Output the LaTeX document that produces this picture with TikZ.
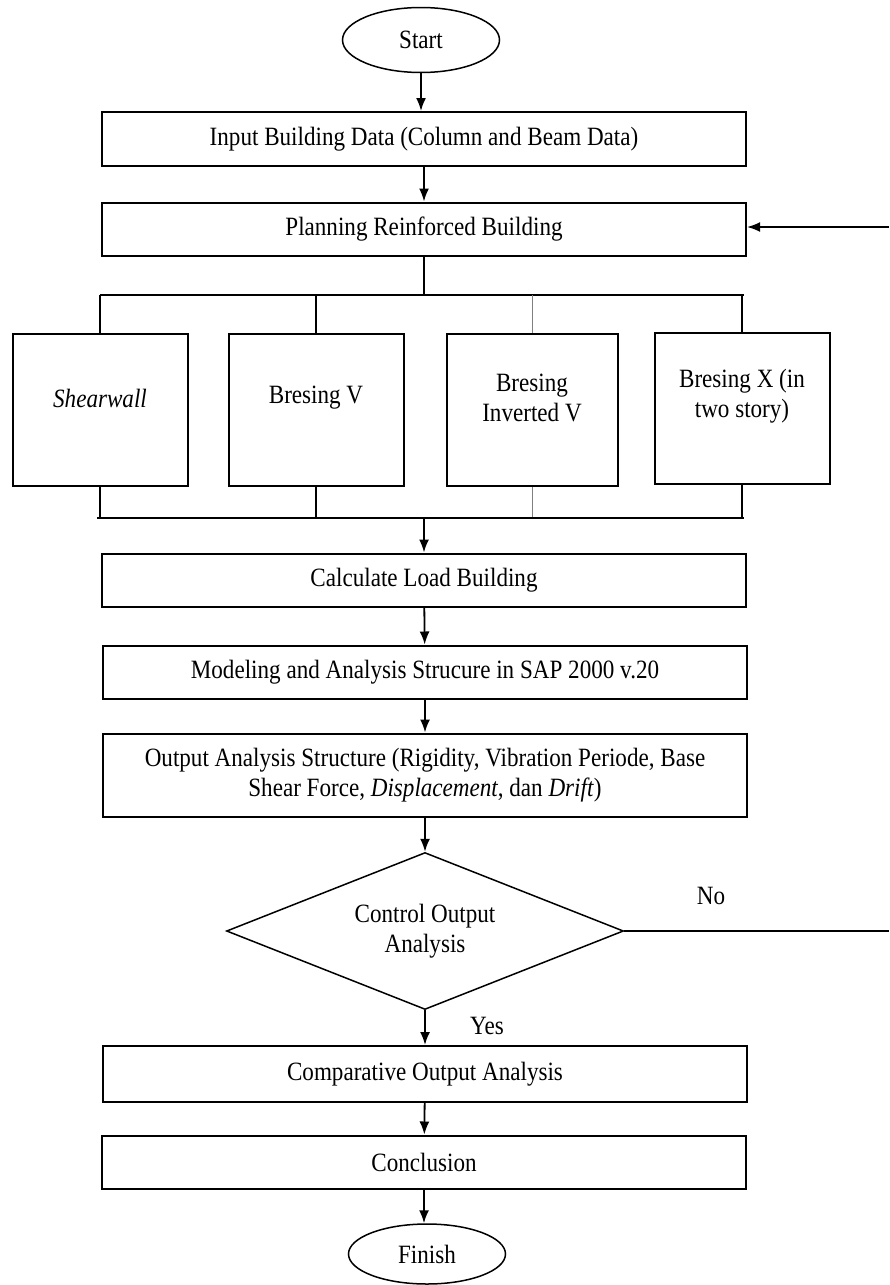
\documentclass[tikz,border=0pt]{standalone}
\usepackage{fontspec}
\setmainfont{Liberation Serif}[FakeStretch=0.875]
\usetikzlibrary{shapes.geometric, arrows.meta}

\begin{document}
\begin{tikzpicture}[x=1pt, y=-1pt,
    every node/.style={font=\fontsize{26.4}{30}\selectfont},
    terminal/.style={ellipse, draw, line width=1.5pt, minimum width=157pt, minimum height=65pt, inner sep=0pt},
    stepBox/.style={draw, line width=2pt, minimum width=\boxWidth pt, minimum height=53pt, align=center, inner sep=0pt},
    optBox/.style={draw, line width=2pt, minimum width=175pt, minimum height=152pt, inner sep=0pt},
    optText/.style={align=center, yshift=12pt},
    decision/.style={diamond, draw, line width=1.5pt, minimum width=397pt, minimum height=157pt, inner sep=0pt, shape aspect=2.5, align=center},
    line/.style={line width=1.8pt},
    flowArrow/.style={line width=1.8pt, -{Latex[length=13pt, width=10pt]}}]

    % Define box width
    \def\boxWidth{644}

    % Fix the page size
    \useasboundingbox (0,0) rectangle (889,1285);

    % Start
    \node[terminal] (start) at (421,40) {Start};

    % Input and planning
    \node[stepBox, minimum height=54pt] (input) at (424,139) {Input Building Data (Column and Beam Data)};
    \node[stepBox] (plan) at (424,229) {Planning Reinforced Building};

    % Structural options
    \node[optBox, label={[optText]center:\textit{Shearwall}}] (shear) at (100,410) {};
    \node[optBox, label={[optText]center:Bresing V}] (bracingV) at (316,410) {};
    \node[optBox, minimum width=171pt, label={[optText]center:Bresing\\Inverted V}] (bracingInv) at (532,410) {};
    \node[optBox, minimum height=151pt, label={[optText]center:Bresing X (in\\two story)}] (bracingX) at (742,408) {};

    % Analysis steps
    \node[stepBox] (calc) at (424,580) {Calculate Load Building};
    \node[stepBox] (model) at (425,672) {Modeling and Analysis Strucure in SAP 2000 v.20};
    \node[stepBox, minimum height=83pt] (output) at (425,775) {Output Analysis Structure (Rigidity, Vibration Periode, Base\\Shear Force, \textit{Displacement}, dan \textit{Drift})};

    % Decision
    \node[decision] (check) at (425,931) {Control Output\\Analysis};
    \node (no) at (711,896) {No};
    \node (yes) at (487,1026) {Yes};

    % Final steps
    \node[stepBox, minimum height=56pt] (compare) at (425,1074) {Comparative Output Analysis};
    \node[stepBox] (concl) at (424,1162) {Conclusion};
    \node[terminal, minimum height=60pt] (finish) at (427,1254) {Finish};

    % Junction points
    \coordinate (splitL) at (100,295);
    \coordinate (splitR) at (744,295);
    \coordinate (joinL) at (97,518);
    \coordinate (joinR) at (744,518);
    \coordinate (join) at (424,518);
    \coordinate (noEnd) at (889,931);
    \coordinate (backIn) at (889,227);

    % Draw arrows
    \draw[flowArrow] (start.south) -- (start.south |- input.north);
    \draw[flowArrow] (input) -- (plan);

    % Split to options
    \draw[line] (plan.south) -- (plan.south |- splitL);
    \draw[line] (splitL) -- (splitR);
    \foreach \opt in {shear, bracingV, bracingX}
        \draw[line] (\opt.north |- splitL) -- (\opt.north);
    \draw[line width=1pt, gray] (bracingInv.north |- splitL) -- (bracingInv.north);

    % Join from options
    \foreach \opt in {shear, bracingV, bracingX}
        \draw[line] (\opt.south) -- (\opt.south |- joinL);
    \draw[line width=1pt, gray] (bracingInv.south) -- (bracingInv.south |- joinL);
    \draw[line] (joinL) -- (joinR);
    \draw[flowArrow] (join) -- (join |- calc.north);

    \draw[flowArrow] (calc) -- (model);
    \draw[flowArrow] (model) -- (output);
    \draw[flowArrow] (output.south) -- (check.north);
    \draw[flowArrow] (check.south) -- (compare.north);
    \draw[flowArrow] (compare) -- (concl);
    \draw[flowArrow] (concl.south) -- (concl.south |- finish.north);

    % Loop back when not fulfilled
    \draw[line] (check.east) -- (noEnd);
    \draw[flowArrow] (backIn) -- (plan.east |- backIn);

\end{tikzpicture}
\end{document}
